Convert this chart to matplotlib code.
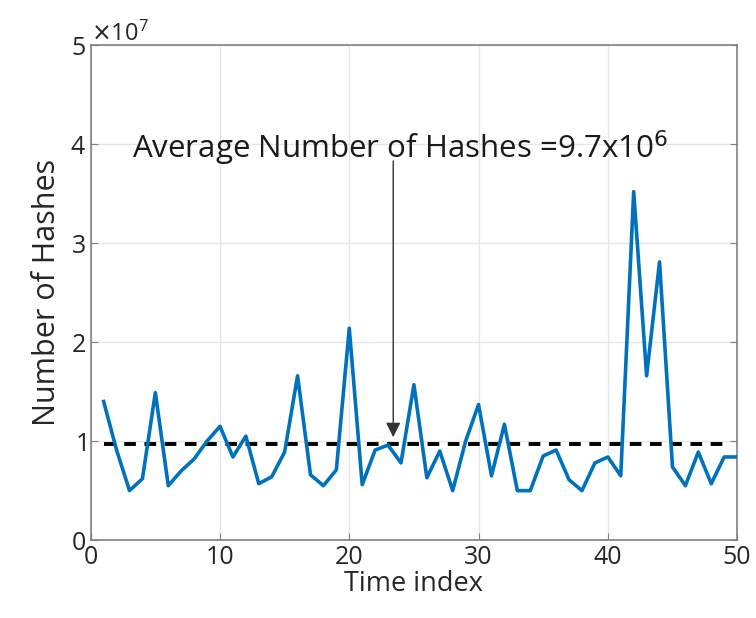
import matplotlib
matplotlib.use("Agg")
import matplotlib.pyplot as plt
from matplotlib.ticker import ScalarFormatter

plt.rcParams['font.family'] = ['Open Sans', 'DejaVu Sans']

time_index = list(range(1, 51))
hashes_e7 = [1.40, 0.91, 0.50, 0.62, 1.49, 0.55, 0.70, 0.82, 1.00, 1.15,
             0.84, 1.05, 0.57, 0.64, 0.89, 1.66, 0.66, 0.55, 0.71, 2.14,
             0.56, 0.91, 0.96, 0.78, 1.57, 0.63, 0.90, 0.50, 1.00, 1.37,
             0.65, 1.17, 0.50, 0.50, 0.85, 0.91, 0.61, 0.50, 0.78, 0.84,
             0.65, 3.52, 1.66, 2.81, 0.74, 0.55, 0.89, 0.57, 0.84, 0.84]
hashes = [v * 1e7 for v in hashes_e7]
average = 9.7e6

fig = plt.figure(figsize=(7.56, 6.18), dpi=100)
ax = fig.add_axes([0.120, 0.126, 0.855, 0.801])

ax.plot(time_index, hashes, color='#0072BD', lw=2.6, zorder=3)
ax.axhline(average, xmin=0.02, xmax=0.98, color='black', ls=(0, (3, 2.2)), lw=2.8, zorder=2)

ax.set_xlim(0, 50)
ax.set_ylim(0, 5e7)
ax.set_xticks([0, 10, 20, 30, 40, 50])
ax.set_yticks([0, 1e7, 2e7, 3e7, 4e7, 5e7])
fmt = ScalarFormatter(useMathText=True)
fmt.set_powerlimits((0, 0))
ax.yaxis.set_major_formatter(fmt)
ax.yaxis.get_offset_text().set_fontsize(17)
ax.yaxis.get_offset_text().set_color('#808080')

ax.grid(True, color='#e6e6e6', lw=1)
ax.set_axisbelow(True)
for s in ax.spines.values():
    s.set_color('#808080')
    s.set_linewidth(1.2)
ax.tick_params(direction='in', length=5, colors='#808080', labelcolor='#262626',
               labelsize=18, top=False, right=True)
ax.set_xlabel('Time index', fontsize=19.5, color='#262626', labelpad=0)
ax.set_ylabel('Number of Hashes', fontsize=22, color='#262626', labelpad=6)

ax.annotate('', xy=(23.4, 1.04e7), xytext=(23.4, 3.83e7),
            arrowprops=dict(arrowstyle='-|>', color='#333333', lw=1.0,
                            mutation_scale=22, shrinkA=0, shrinkB=0))
ax.text(23.9, 3.96e7, 'Average Number of Hashes =9.7x10$^6$', fontsize=22.5,
        ha='center', va='center', color='#1a1a1a')

fig.savefig('out.png', dpi=100)
